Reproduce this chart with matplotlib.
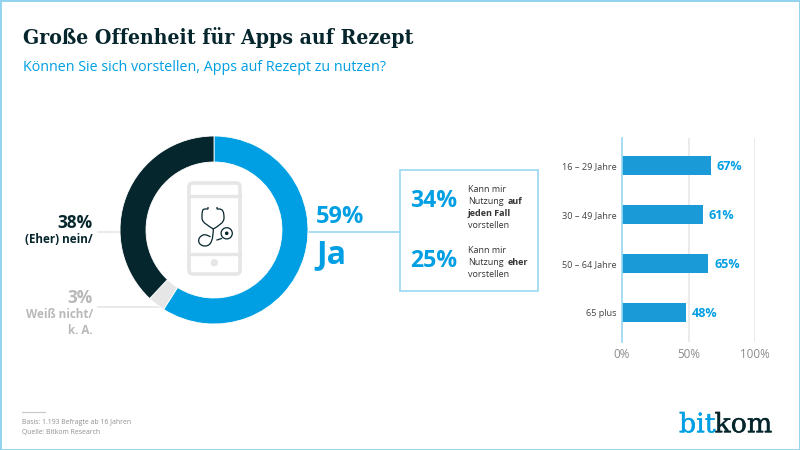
import matplotlib
matplotlib.use("Agg")
import matplotlib.pyplot as plt
import matplotlib.patheffects as pe
from matplotlib.patches import Rectangle, FancyBboxPatch, Circle, PathPatch
from matplotlib.path import Path

BODY = "Open Sans"
DARK = "#06262d"
BLUE = "#009fe3"
BAR = "#1a9ad6"
PALE = "#99d8f2"
GREY = "#b9b9b9"
LIGHT = "#e6e6e6"

title = "Große Offenheit für Apps auf Rezept"
subtitle = "Können Sie sich vorstellen, Apps auf Rezept zu nutzen?"
donut_labels = ["Ja", "Weiß nicht/k. A.", "(Eher) nein"]
donut_values = [59, 3, 38]
donut_colors = [BLUE, LIGHT, DARK]
age_groups = ["16 – 29 Jahre", "30 – 49 Jahre", "50 – 64 Jahre", "65 plus"]
age_values = [67, 61, 65, 48]
x_ticks = [0, 50, 100]

W, H = 800, 450
fig = plt.figure(figsize=(8, 4.5), dpi=100, facecolor="white")

def px_axes(x0, y0, x1, y1, **kw):
    return fig.add_axes([x0 / W, 1 - y1 / H, (x1 - x0) / W, (y1 - y0) / H], **kw)

ov = px_axes(0, 0, W, H)
ov.set_xlim(0, W); ov.set_ylim(H, 0); ov.axis("off")

def T(x, y, s, size, color=DARK, weight="normal", ha="left", va="baseline", family=BODY, **kw):
    return ov.text(x, y, s, fontsize=size, color=color, fontweight=weight, ha=ha, va=va, family=family, **kw)

# frame
ov.add_patch(Rectangle((0.5, 0.5), W - 1, H - 1, fill=False, ec="#93d3ef", lw=1.4))

# heading
T(23, 44, title, 15.2, weight="bold", family="DejaVu Serif", stretch="condensed")
T(23, 71, subtitle, 10.28, color=BLUE)

# leader lines
ov.plot([98, 122], [231.5, 231.5], color=LIGHT, lw=1.2)
ov.plot([98, 160], [306.7, 306.7], color=LIGHT, lw=1.2)
ov.plot([308, 400], [231.5, 231.5], color=PALE, lw=1.2)

# donut
ad = px_axes(120, 136, 308, 324)
ad.pie(donut_values, colors=donut_colors, startangle=90, counterclock=False, radius=1,
       wedgeprops=dict(width=26 / 94, edgecolor="white", linewidth=0.6))
ad.set_xlim(-1, 1); ad.set_ylim(-1, 1)

# phone icon
ov.add_patch(FancyBboxPatch((189, 183), 51, 91, boxstyle="round,pad=0,rounding_size=4",
                            fill=False, ec=LIGHT, lw=2.6))
ov.plot([189, 240], [196, 196], color=LIGHT, lw=2.4)
ov.plot([189, 240], [254, 254], color=LIGHT, lw=2.4)
ov.add_patch(Circle((214.3, 262.7), 3, color=LIGHT))

# stethoscope
C4, M = Path.CURVE4, Path.MOVETO
arms = Path([(208, 207), (208, 209), (208, 209), (205, 209), (202, 209), (202, 212), (202, 218),
             (202, 223), (209, 226), (213.3, 229), (218, 226), (224, 223), (224, 218),
             (224, 212), (223, 209), (219, 209), (217, 209), (217, 209), (217, 207)],
            [M, Path.LINETO, Path.LINETO, Path.LINETO, C4, C4, C4, C4, C4, C4, C4, C4, C4, C4, C4, C4,
             Path.LINETO, Path.LINETO, Path.LINETO])
tube = Path([(213.3, 229), (213, 238), (212, 246), (205, 246), (198, 246), (196, 238), (203, 235),
             (206, 234), (209, 236), (210.5, 237)],
            [M, C4, C4, C4, C4, C4, C4, C4, C4, C4])
for p in (arms, tube):
    ov.add_patch(PathPatch(p, fill=False, ec=DARK, lw=0.9))
ov.plot([217, 221.5], [240, 238.5], color=DARK, lw=0.9)
ov.add_patch(Circle((226.7, 233.3), 5.6, fill=False, ec=DARK, lw=0.9))
ov.add_patch(Circle((226.7, 233.3), 1.1, color=DARK))

# donut labels
T(316, 223, "59%", 17, color=BLUE, weight="bold")
T(316, 262.7, "Ja", 23, color=BLUE, weight="bold")
T(93, 227.5, "38%", 12.4, weight="bold", ha="right")
T(93, 243, "(Eher) nein/", 8.4, weight="bold", ha="right")
T(93, 302.7, "3%", 12.4, color=GREY, weight="bold", ha="right")
T(93, 318, "Weiß nicht/", 8.4, color=GREY, weight="bold", ha="right")
T(93, 334, "k. A.", 8.4, color=GREY, weight="bold", ha="right")

# detail box
ov.add_patch(Rectangle((399.5, 170), 138, 120.5, fill=False, ec=PALE, lw=1.2))
T(410, 206.7, "34%", 16.6, color=BLUE, weight="bold")
T(410, 266.7, "25%", 16.6, color=BLUE, weight="bold")
c = "#333333"
T(468, 192, "Kann mir", 6.5, c)
T(468, 204, "Nutzung", 6.5, c)
T(507.7, 204, "auf", 6.5, c, "bold")
T(468, 216, "jeden Fall", 6.5, c, "bold")
T(468, 228, "vorstellen", 6.5, c)
T(468, 252.7, "Kann mir", 6.5, c)
T(468, 265, "Nutzung", 6.5, c)
T(507.7, 265, "eher", 6.5, c, "bold")
T(468, 276.7, "vorstellen", 6.5, c)

# bar chart
ab = px_axes(622, 138, 755, 342)
ypos = list(range(len(age_groups)))
ab.barh(ypos, age_values, height=0.38, color=BAR, zorder=3)
ab.set_xlim(0, 100)
ab.set_ylim(3.602, -0.561)
ab.set_yticks(ypos, age_groups, fontsize=6.6, color="#444444", family=BODY)
ab.set_xticks(x_ticks, [f"{v}%" for v in x_ticks], fontsize=8.4, color="#8c8c8c", family=BODY)
ab.tick_params(axis="y", length=0, pad=3.6)
ab.tick_params(axis="x", length=0, pad=4)
ab.grid(axis="x", color=LIGHT, lw=1.1, zorder=0)
for s in ("top", "right", "bottom"):
    ab.spines[s].set_visible(False)
ab.spines["left"].set_color(PALE); ab.spines["left"].set_linewidth(1.2); ab.spines["left"].set_zorder(4)
for y, v in zip(ypos, age_values):
    ab.annotate(f"{v}%", (v, y), xytext=(4.2, -0.5), textcoords="offset points", va="center", ha="left",
                fontsize=9, color=BLUE, fontweight="bold", family=BODY)

# footer
ov.plot([22, 44.5], [411.5, 411.5], color="#c8c8c8", lw=0.8)
T(22, 424.5, "Basis: 1.193 Befragte ab 16 Jahren", 4.95, "#909090")
T(22, 433.7, "Quelle: Bitkom Research", 4.95, "#909090")

# logo
for x, s, col in ((679, "bit", BLUE), (714.5, "kom", DARK)):
    T(x, 432.3, s, 19.3, col, family="DejaVu Serif").set_path_effects(
        [pe.withStroke(linewidth=0.3, foreground=col)])

fig.savefig("out.png", dpi=100)
